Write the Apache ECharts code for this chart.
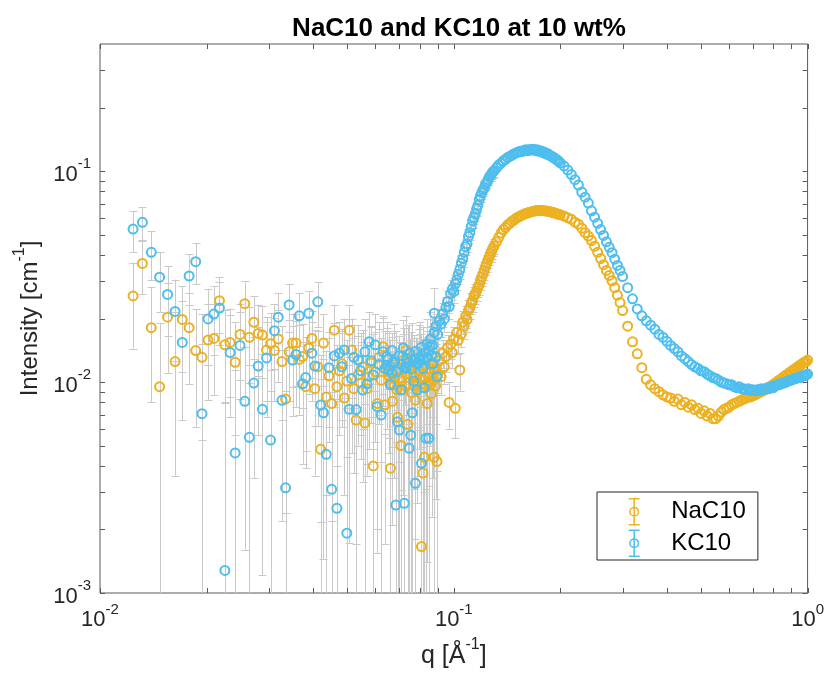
<!DOCTYPE html>
<html>
<head>
<meta charset="utf-8">
<script src="https://cdn.jsdelivr.net/npm/echarts@6/dist/echarts.min.js"></script>
<style>html,body{margin:0;padding:0;background:#fff}#chart{width:827px;height:675px}</style>
</head>
<body>
<div id="chart"></div>
<script>
// ---------- DATA ----------
const titleText = 'NaC10 and KC10 at 10 wt%';
const seriesNames = ['NaC10', 'KC10'];

// low-q configuration (large error bars)
const qLow = [0.01240,0.01318,0.01396,0.01474,0.01552,0.01630,0.01708,0.01786,0.01864,0.01942,
0.02020,0.02098,0.02176,0.02254,0.02332,0.02410,0.02488,0.02566,0.02644,0.02722,
0.02800,0.02878,0.02956,0.03034,0.03112,0.03190,0.03268,0.03346,0.03424,0.03502,
0.03580,0.03658,0.03736,0.03814,0.03892,0.03970,0.04048,0.04126,0.04204,0.04282,
0.04360,0.04438,0.04516,0.04594,0.04672,0.04750,0.04828,0.04906,0.04984,0.05062,
0.05140,0.05218,0.05296,0.05374,0.05452,0.05530,0.05608,0.05686,0.05764,0.05842,
0.05920,0.05998,0.06076,0.06154,0.06232,0.06310,0.06388,0.06466,0.06544,0.06622,
0.06700,0.06778,0.06856,0.06934,0.07012,0.07090,0.07168,0.07246,0.07324,0.07402,
0.07480,0.07558,0.07636,0.07714,0.07792,0.07870,0.07948,0.08026,0.08104,0.08182,
0.08260,0.08338,0.08416,0.08494,0.08572,0.08650,0.08728,0.08806,0.08884,0.08962];

const naLow = [0.0256,0.0365,0.0181,0.0095,0.0203,0.0125,0.0198,0.0181,0.0141,0.0131,
0.0158,0.0161,0.0243,0.0150,0.0154,0.0124,0.0168,0.0235,0.0163,0.0192,
0.0170,0.0167,0.0142,0.0152,0.0141,0.0160,0.0125,0.0083,0.0139,0.0153,
0.0153,0.0128,0.0132,0.0095,0.0145,0.0161,0.0093,0.0118,0.0048,0.0153,
0.0085,0.0107,0.0079,0.0176,0.0095,0.0113,0.0122,0.0084,0.0101,0.0176,
0.0142,0.0093,0.0066,0.0108,0.0099,0.0118,0.0064,0.0093,0.0106,0.0123,
0.0040,0.0112,0.0079,0.0131,0.0102,0.0147,0.0078,0.0120,0.0108,0.0039,
0.0081,0.0097,0.0113,0.0068,0.0104,0.0050,0.0092,0.0119,0.0142,0.0063,
0.0125,0.0108,0.0127,0.0096,0.0082,0.0099,0.0113,0.0104,0.00166,0.0037,
0.0044,0.0097,0.0079,0.0099,0.0116,0.0088,0.0102,0.0044,0.0096,0.0042];

const naLowErr = [0.0112,0.0104,0.0101,0.0096,0.0093,0.0089,0.0086,0.0083,0.0080,0.0078,
0.0076,0.0074,0.0072,0.0070,0.0069,0.0068,0.0066,0.0065,0.0064,0.0064,
0.0063,0.0062,0.0061,0.0061,0.0060,0.0060,0.0059,0.0059,0.0058,0.0058,
0.0057,0.0058,0.0057,0.0056,0.0057,0.0056,0.0057,0.0056,0.0055,0.0057,
0.0056,0.0055,0.0057,0.0056,0.0055,0.0057,0.0056,0.0055,0.0057,0.0056,
0.0058,0.0056,0.0057,0.0058,0.0056,0.0058,0.0059,0.0057,0.0058,0.0059,
0.0058,0.0060,0.0059,0.0061,0.0060,0.0059,0.0061,0.0060,0.0062,0.0061,
0.0060,0.0062,0.0061,0.0063,0.0062,0.0061,0.0063,0.0062,0.0064,0.0063,
0.0062,0.0064,0.0063,0.0065,0.0064,0.0063,0.0065,0.0064,0.0066,0.0065,
0.0064,0.0066,0.0065,0.0067,0.0066,0.0065,0.0067,0.0066,0.0068,0.0067];

const kLow = [0.0531,0.0571,0.0412,0.0314,0.0260,0.0216,0.0154,0.0318,0.0372,0.00708,
0.0199,0.0210,0.0224,0.00128,0.0138,0.00461,0.0149,0.00810,0.00547,0.00989,
0.0119,0.00742,0.0130,0.00531,0.0175,0.0203,0.00819,0.00315,0.0232,0.0127,
0.0135,0.0206,0.0098,0.0105,0.0212,0.0137,0.0119,0.0240,0.00778,0.00715,
0.00454,0.0117,0.0031,0.0133,0.00252,0.0137,0.0118,0.0142,0.00192,0.00742,
0.0104,0.0131,0.0074,0.0127,0.0113,0.00916,0.0139,0.0098,0.0155,0.0126,
0.0108,0.0150,0.00764,0.0121,0.00697,0.0139,0.0116,0.0132,0.0114,0.0097,
0.0110,0.0125,0.00261,0.00648,0.00592,0.00917,0.0133,0.00266,0.0116,0.0123,
0.00485,0.0056,0.00715,0.0101,0.00331,0.00917,0.0123,0.0127,0.00412,0.0116,
0.0094,0.00541,0.0131,0.00541,0.0148,0.0134,0.0122,0.0212,0.0132,0.0106];

const kLowErr = [0.0118,0.0106,0.0107,0.0100,0.0095,0.0090,0.0088,0.0085,0.0082,0.0080,
0.0078,0.0075,0.0074,0.0067,0.0070,0.0068,0.0066,0.0065,0.0066,0.0064,
0.0063,0.0062,0.0062,0.0061,0.0060,0.0061,0.0060,0.0059,0.0060,0.0058,
0.0059,0.0058,0.0057,0.0058,0.0057,0.0056,0.0057,0.0058,0.0056,0.0057,
0.0058,0.0056,0.0059,0.0057,0.0058,0.0056,0.0057,0.0058,0.0056,0.0057,
0.0058,0.0056,0.0057,0.0059,0.0057,0.0058,0.0060,0.0057,0.0059,0.0058,
0.0060,0.0059,0.0061,0.0058,0.0060,0.0062,0.0059,0.0061,0.0060,0.0062,
0.0061,0.0063,0.0060,0.0062,0.0064,0.0061,0.0063,0.0062,0.0064,0.0063,
0.0065,0.0062,0.0064,0.0066,0.0063,0.0065,0.0064,0.0066,0.0065,0.0067,
0.0064,0.0066,0.0068,0.0065,0.0067,0.0066,0.0068,0.0067,0.0069,0.0068];

// high-q configuration
const qHigh = [0.065,0.066,0.067,0.068,0.069,0.070,0.071,0.072,0.073,0.074,
0.075,0.076,0.077,0.078,0.079,0.080,0.081,0.082,0.083,0.084,
0.085,0.086,0.087,0.088,0.089,0.090,0.091,0.092,0.093,0.094,
0.095,0.096,0.097,0.098,0.099,0.100,0.101,0.102,0.103,0.104,
0.105,0.106,0.107,0.108,0.109,0.110,0.111,0.112,0.113,0.114,
0.115,0.116,0.117,0.118,0.119,0.120,0.121,0.122,0.123,0.124,
0.125,0.126,0.127,0.128,0.129,0.130,
0.132,0.134,0.136,0.138,0.140,0.142,0.144,0.146,0.148,0.150,
0.152,0.154,0.156,0.158,0.160,0.162,0.164,0.166,0.168,0.170,
0.172,0.174,0.176,0.178,0.180,0.182,0.184,0.186,0.188,0.190,
0.192,0.194,0.196,0.198,0.200,
0.205,0.210,0.215,0.220,0.225,0.230,0.235,0.240,0.245,0.250,
0.255,0.260,0.265,0.270,0.275,0.280,0.285,0.290,0.295,0.300,
0.31,0.32,0.33,0.34,0.35,0.36,0.37,0.38,0.39,0.40,
0.41,0.42,0.43,0.44,0.45,0.46,0.47,0.48,0.49,0.50,
0.51,0.52,0.53,0.54,0.55,0.56,0.57,0.58,0.59,0.60,
0.61,0.62,0.63,0.64,0.65,0.66,0.67,0.68,0.69,0.70,
0.71,0.72,0.73,0.74,0.75,0.76,0.77,0.78,0.79,0.80,
0.81,0.82,0.83,0.84,0.85,0.86,0.87,0.88,0.89,0.90,
0.91,0.92,0.93,0.94,0.95,0.96,0.97,0.98,0.99,1.00];

const naHigh = [0.0112,0.0098,0.0121,0.0104,0.0092,0.0115,0.0101,0.0126,0.0096,0.0109,
0.0118,0.0089,0.0107,0.0122,0.0099,0.0113,0.0094,0.0119,0.0105,0.0128,
0.0110,0.0097,0.0123,0.0114,0.0131,0.0108,0.0126,0.0106,0.0137,0.0118,
0.0132,0.0145,0.0080,0.0151,0.0138,0.0160,0.0075,0.0172,0.0158,0.0114,
0.0169,0.0192,0.0184,0.0205,0.0198,0.0218,0.0225,0.0236,0.0242,0.0255,
0.0262,0.0270,0.0281,0.0289,0.0302,0.0315,0.0326,0.0338,0.0352,0.0366,
0.0380,0.0392,0.0405,0.0418,0.0430,0.0441,
0.0462,0.0485,0.0508,0.0528,0.0540,0.0556,0.0565,0.0578,0.0586,0.0597,
0.0605,0.0612,0.0618,0.0625,0.0629,0.0634,0.0638,0.0642,0.0645,0.0648,
0.0650,0.0649,0.0652,0.0650,0.0649,0.0647,0.0645,0.0643,0.0640,0.0637,
0.0634,0.0630,0.0627,0.0623,0.0620,
0.0612,0.0600,0.0590,0.0572,0.0560,0.0536,0.0510,0.0492,0.0468,0.0440,
0.0412,0.0385,0.0360,0.0338,0.0320,0.0302,0.0280,0.0258,0.0238,0.0218,
0.0184,0.0155,0.0136,0.0117,0.0103,0.0097,0.0093,0.0090,0.0087,0.0085,
0.0084,0.0081,0.0083,0.0078,0.0080,0.0076,0.0078,0.0074,0.0075,0.0071,
0.0073,0.0069,0.0071,0.0067,0.0067,0.0069,0.0072,0.0074,0.0075,0.0076,
0.0078,0.0079,0.0080,0.0081,0.0082,0.0083,0.0084,0.0085,0.0085,0.0086,
0.0087,0.0088,0.0089,0.0090,0.0091,0.0092,0.0093,0.0094,0.0096,0.0097,
0.0099,0.0100,0.0102,0.0103,0.0105,0.0106,0.0108,0.0109,0.0111,0.0112,
0.0114,0.0115,0.0117,0.0118,0.0120,0.0121,0.0123,0.0124,0.0125,0.0127];

const naHighErr = [0.0019,0.0018,0.0020,0.0019,0.0018,0.0020,0.0019,0.0021,0.0018,0.0019,
0.0020,0.0018,0.0019,0.0020,0.0018,0.0019,0.0018,0.0020,0.0019,0.0021,
0.0019,0.0018,0.0020,0.0019,0.0021,0.0019,0.0020,0.0019,0.0021,0.0020,
0.0021,0.0022,0.0020,0.0022,0.0021,0.0022,0.0021,0.0023,0.0022,0.0023,
0.0023,0.0024,0.0024,0.0025,0.0025,0.0026,0.0026,0.0027,0.0027,0.0028,
0.0028,0.0029,0.0029,0.0030,0.0030,0.0031,0.0031,0.0032,0.0032,0.0033,
0.0033,0.0034,0.0034,0.0035,0.0035,0.0036];

const kHigh = [0.0128,0.0119,0.0141,0.0124,0.0112,0.0133,0.0121,0.0145,0.0118,0.0129,
0.0137,0.0115,0.0126,0.0140,0.0122,0.0131,0.0146,0.0128,0.0138,0.0152,
0.0141,0.0160,0.0149,0.0172,0.0184,0.0168,0.0195,0.0188,0.0210,0.0199,
0.0226,0.0241,0.0228,0.0262,0.0275,0.0268,0.0292,0.0305,0.0324,0.0341,
0.0366,0.0385,0.0412,0.0438,0.0452,0.0489,0.0510,0.0545,0.0581,0.0602,
0.0625,0.0660,0.0688,0.0731,0.0762,0.0790,0.0815,0.0832,0.0868,0.0882,
0.0910,0.0935,0.0951,0.0972,0.0990,0.1002,
0.1035,0.1068,0.1090,0.1118,0.1135,0.1160,0.1172,0.1190,0.1205,0.1218,
0.1230,0.1242,0.1236,0.1255,0.1260,0.1248,0.1265,0.1258,0.1270,0.1252,
0.1262,0.1240,0.1248,0.1225,0.1230,0.1205,0.1212,0.1190,0.1182,0.1165,
0.1158,0.1140,0.1128,0.1110,0.1092,
0.1055,0.1010,0.0962,0.0910,0.0858,0.0795,0.0752,0.0705,0.0648,0.0604,
0.0565,0.0528,0.0495,0.0462,0.0435,0.0410,0.0382,0.0357,0.0338,0.0316,
0.0280,0.0248,0.0222,0.0206,0.0195,0.0186,0.0178,0.0168,0.0163,0.0156,
0.0149,0.0144,0.0139,0.0133,0.0129,0.0125,0.0121,0.0118,0.0116,0.0113,
0.0112,0.0109,0.0107,0.0105,0.0104,0.0102,0.0100,0.0099,0.0098,0.0097,
0.0097,0.0095,0.0094,0.0095,0.0093,0.0093,0.0092,0.0093,0.0091,0.0092,
0.0091,0.0092,0.0091,0.0093,0.0092,0.0093,0.0094,0.0093,0.0095,0.0094,
0.0096,0.0097,0.0097,0.0098,0.0099,0.0099,0.0100,0.0101,0.0102,0.0102,
0.0103,0.0104,0.0104,0.0105,0.0105,0.0106,0.0107,0.0107,0.0108,0.0109];

const kHighErr = [0.0021,0.0020,0.0022,0.0021,0.0019,0.0022,0.0020,0.0023,0.0020,0.0021,
0.0022,0.0019,0.0021,0.0022,0.0020,0.0021,0.0023,0.0021,0.0022,0.0023,
0.0022,0.0024,0.0022,0.0025,0.0026,0.0024,0.0026,0.0025,0.0027,0.0026,
0.0028,0.0029,0.0028,0.0030,0.0031,0.0030,0.0031,0.0032,0.0033,0.0034,
0.0035,0.0036,0.0037,0.0038,0.0039,0.0040,0.0041,0.0042,0.0043,0.0044,
0.0045,0.0046,0.0047,0.0048,0.0049,0.0050,0.0051,0.0052,0.0053,0.0054,
0.0055,0.0056,0.0057,0.0058,0.0059,0.0060];

// axes / ticks
const xRange = [0.01, 1];
const yRange = [0.001, 0.4];
const xMajorTicks = [0.01, 0.1, 1];
const xMinorTicks = [0.02,0.03,0.04,0.05,0.06,0.07,0.08,0.09,0.2,0.3,0.4,0.5,0.6,0.7,0.8,0.9];
const yMajorTicks = [0.001, 0.01, 0.1];
const yMinorTicks = [0.002,0.003,0.004,0.005,0.006,0.007,0.008,0.009,0.02,0.03,0.04,0.05,0.06,0.07,0.08,0.09,0.2,0.3];

// ---------- STYLE ----------
const FONT = 'Liberation Sans, Arial, Helvetica, sans-serif';
const ORANGE = '#EDB120';
const BLUE = '#4DBEEE';
const BAR = '#c9c9c9';
const AXIS = '#5a5a5a';
const TEXT = '#262626';

const richTick = {
  b: { fontSize: 22, fontFamily: FONT, color: TEXT, padding: [7, 0, 0, 0] },
  s: { fontSize: 15, fontFamily: FONT, color: TEXT, verticalAlign: 'top' }
};
const richNameY = {
  b: { fontSize: 24, fontFamily: FONT, color: TEXT, padding: [7, 0, 0, 0] },
  s: { fontSize: 16, fontFamily: FONT, color: TEXT, verticalAlign: 'top' }
};
const richNameX = {
  b: { fontSize: 25, fontFamily: FONT, color: TEXT, padding: [7, 0, 0, 0] },
  s: { fontSize: 16, fontFamily: FONT, color: TEXT, verticalAlign: 'top' }
};
function powLabel(v) {
  const e = Math.log10(v);
  const r = Math.round(e);
  if (Math.abs(e - r) > 1e-6) return '';
  return '{b|10}{s|' + r + '}';
}

function errData(q, I, err) {
  const out = [];
  for (let i = 0; i < q.length; i++) if (err[i]) out.push([q[i], I[i], err[i]]);
  return out;
}
function errSeries(name, data) {
  return {
    type: 'custom', name: name, silent: true, clip: true,
    data: data, encode: { x: 0, y: 1 },
    renderItem: function (params, api) {
      const x = api.value(0), y = api.value(1), e = api.value(2);
      const cs = params.coordSys;
      const px = Math.round(api.coord([x, y])[0]) + 0.5;
      const hiV = y + e, loV = y - e;
      let topY = api.coord([x, hiV])[1];
      let topCap = true;
      if (topY < cs.y) { topY = cs.y; topCap = false; }
      let botY, botCap = true;
      if (loV <= yRange[0]) { botY = cs.y + cs.height; botCap = false; }
      else botY = api.coord([x, loV])[1];
      const st = { stroke: BAR, lineWidth: 1 };
      const ch = [{ type: 'line', shape: { x1: px, y1: topY, x2: px, y2: botY }, style: st }];
      if (topCap) ch.push({ type: 'line', shape: { x1: px - 4, y1: Math.round(topY) + 0.5, x2: px + 4, y2: Math.round(topY) + 0.5 }, style: st });
      if (botCap) ch.push({ type: 'line', shape: { x1: px - 4, y1: Math.round(botY) + 0.5, x2: px + 4, y2: Math.round(botY) + 0.5 }, style: st });
      return { type: 'group', children: ch };
    }
  };
}
function pts(qa, Ia) { return qa.map((q, i) => [q, Ia[i]]); }
function scatterSeries(name, data, color) {
  return {
    type: 'scatter', name: name, data: data, symbol: 'circle', symbolSize: 9,
    itemStyle: { color: 'rgba(0,0,0,0)', borderColor: color, borderWidth: 2, opacity: 1 },
    emphasis: { disabled: true }, z: 3
  };
}
function tickSeries(vals, isX, len) {
  return {
    type: 'custom', silent: true, clip: false, z: 5,
    data: vals.map(v => isX ? [v, 0.01] : [0.1, v]),
    encode: { x: 0, y: 1 },
    renderItem: function (params, api) {
      const cs = params.coordSys;
      const st = { stroke: AXIS, lineWidth: 1 };
      if (isX) {
        const x = Math.round(api.coord([api.value(0), 0.01])[0]) + 0.5;
        const b = cs.y + cs.height, t = cs.y;
        return { type: 'group', children: [
          { type: 'line', shape: { x1: x, y1: b, x2: x, y2: b - len }, style: st },
          { type: 'line', shape: { x1: x, y1: t, x2: x, y2: t + len }, style: st }
        ] };
      } else {
        const y = Math.round(api.coord([0.1, api.value(1)])[1]) + 0.5;
        const l = cs.x, r = cs.x + cs.width;
        return { type: 'group', children: [
          { type: 'line', shape: { x1: l, y1: y, x2: l + len, y2: y }, style: st },
          { type: 'line', shape: { x1: r, y1: y, x2: r - len, y2: y }, style: st }
        ] };
      }
    }
  };
}

const iconPath = 'path://M0,0 L10,0 M5,0 L5,24 M0,24 L10,24 M5,8 A4,4 0 1 1 5,16 A4,4 0 1 1 5,8';

const chart = echarts.init(document.getElementById('chart'), null, { renderer: 'canvas' });
chart.setOption({
  backgroundColor: '#fff',
  animation: false,
  title: {
    text: titleText, left: 454, top: 11, textAlign: 'center',
    textStyle: { fontSize: 26, fontWeight: 'bold', color: '#000', fontFamily: FONT }
  },
  grid: { left: 100, right: 18, top: 44, bottom: 82, show: true, borderColor: AXIS, borderWidth: 1, backgroundColor: 'rgba(0,0,0,0)' },
  legend: {
    orient: 'vertical', left: 597, top: 492, padding: [6, 12, 3, 31],
    itemWidth: 12, itemHeight: 26, itemGap: 4,
    borderColor: '#262626', borderWidth: 1, backgroundColor: '#fff', selectedMode: false,
    textStyle: { fontSize: 24, color: '#000', fontFamily: FONT, padding: [0, 0, 0, 26] },
    data: [
      { name: seriesNames[0], icon: iconPath, itemStyle: { color: 'rgba(0,0,0,0)', borderColor: ORANGE, borderWidth: 1.5 } },
      { name: seriesNames[1], icon: iconPath, itemStyle: { color: 'rgba(0,0,0,0)', borderColor: BLUE, borderWidth: 1.5 } }
    ]
  },
  xAxis: {
    type: 'log', logBase: 10, min: xRange[0], max: xRange[1],
    axisLine: { show: false }, axisTick: { show: false }, splitLine: { show: false }, minorTick: { show: false },
    axisLabel: { margin: 9, formatter: powLabel, rich: richTick, color: TEXT },
    name: '{b|q [Å}{s|-1}{b|]}', nameLocation: 'middle', nameGap: 44,
    nameTextStyle: { rich: richNameX }
  },
  yAxis: {
    type: 'log', logBase: 10, min: yRange[0], max: yRange[1],
    axisLine: { show: false }, axisTick: { show: false }, splitLine: { show: false }, minorTick: { show: false },
    axisLabel: { margin: 9, formatter: powLabel, rich: richTick, color: TEXT },
    name: '{b|Intensity [cm}{s|-1}{b|]}', nameLocation: 'middle', nameGap: 55, nameRotate: 90,
    nameTextStyle: { rich: richNameY }
  },
  series: [
    errSeries('NaC10 err low', errData(qLow, naLow, naLowErr)),
    errSeries('NaC10 err high', errData(qHigh, naHigh, naHighErr)),
    scatterSeries(seriesNames[0], pts(qLow, naLow).concat(pts(qHigh, naHigh)), ORANGE),
    errSeries('KC10 err low', errData(qLow, kLow, kLowErr)),
    errSeries('KC10 err high', errData(qHigh, kHigh, kHighErr)),
    scatterSeries(seriesNames[1], pts(qLow, kLow).concat(pts(qHigh, kHigh)), BLUE),
    tickSeries(xMajorTicks.concat(xMinorTicks), true, 5),
    tickSeries(yMajorTicks.concat(yMinorTicks), false, 5)
  ]
});
</script>
</body>
</html>
